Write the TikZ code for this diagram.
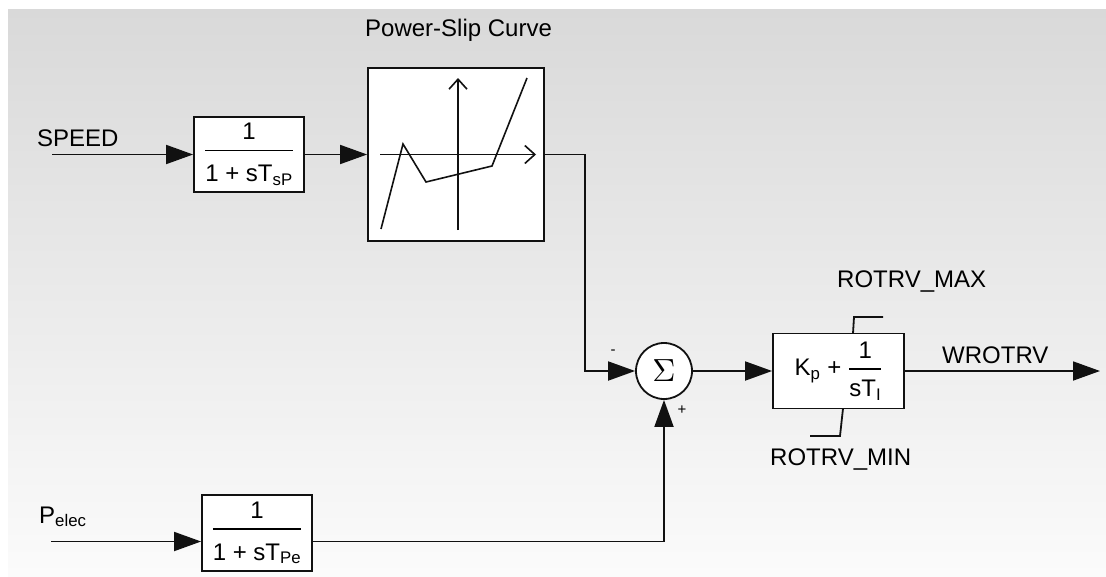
\documentclass[tikz,border=0pt]{standalone}
\usepackage{amsmath}
\usepackage{graphicx}
\usepackage{fontspec}
\setmainfont{Liberation Sans}
\usepackage{tikz}
\usetikzlibrary{arrows.meta,positioning}
\definecolor{ink}{HTML}{111111}
\definecolor{bgtop}{HTML}{D9D9D9}
\definecolor{bgbot}{HTML}{FBFBFB}

\begin{document}
\begin{tikzpicture}[
  x=1pt,y=-1pt,
  font=\fontsize{24}{28}\selectfont,
  blk/.style={draw=ink,fill=white,line width=1.8pt,inner sep=0pt,minimum width=110pt,minimum height=75pt},
  sumnode/.style={draw=ink,fill=white,circle,line width=1.8pt,inner sep=0pt,minimum size=56pt},
  flow/.style={-{Triangle[length=27pt,width=19pt]},draw=ink,line width=1.8pt},
  wire/.style={draw=ink,line width=1.8pt},
  axis/.style={-{Straight Barb[length=10pt,width=18pt]},draw=ink,line width=1.6pt},
  lbl/.style={anchor=base west,inner sep=0pt},
  sgn/.style={font=\fontsize{15}{16}\selectfont,inner sep=0pt},
]
\useasboundingbox (0,0) rectangle (1106,576);
\shade[top color=bgtop,bottom color=bgbot] (8,9) rectangle (1106,576);

\node[blk] (tsp) at (249,154.5)
  {$\genfrac{}{}{1.5pt}{0}{\text{1}}{\rule{0pt}{26pt}\text{1 + sT}_{\text{sP}}}$};
\node[blk,minimum width=176pt,minimum height=173pt] (pslip) at (456,154.5) {};
\node[sumnode] (sum) at (664,371) {\fontsize{10}{12}\selectfont\scalebox{3.2}{$\Sigma$}};
\node[blk,minimum width=131pt] (pi) at (838.5,371)
  {$\text{K}_{\text{p}}\;\text{+}\;\genfrac{}{}{1.5pt}{0}{\text{1}}{\rule{0pt}{22pt}\text{sT}_{\text{I}}}$};
\node[blk,minimum height=76pt] (tpe) at (257,533)
  {$\genfrac{}{}{1.5pt}{0}{\text{1}}{\rule{0pt}{26pt}\text{1 + sT}_{\text{Pe}}}$};

\node[lbl] (speed) at (37,146) {SPEED};
\node[lbl] (pslab) at (365,36) {Power-Slip Curve};
\node[lbl] (pelec) at (39,523) {P\textsubscript{elec}};
\node[lbl] (rmax) at (837,287) {ROTRV\_MAX};
\node[lbl] (rmin) at (770,465) {ROTRV\_MIN};
\node[lbl] (wrot) at (942,363) {WROTRV};
\node[sgn] (minus) at (613,352) {-};
\node[sgn] (plus) at (682,410) {+};

% power-slip characteristic
\draw[axis] (380,154.5) -- (536,154.5);
\draw[axis] (458,230) -- (458,78);
\draw[wire,line width=1.6pt] (381,229) -- (403,144) -- (426,182) -- (492,166) -- (527,78);

% limiter marks
\draw[wire] (853,333.5) -- (854,317) -- (883,317);
\draw[wire] (843,408.5) -- (840,436) -- (810,436);

\coordinate (speedin) at (52,154.5);
\coordinate (bend) at (585,154.5);
\coordinate (pin) at (51,541.5);
\coordinate (out) at (1100,371);

\draw[flow] (speedin) -- (tsp);
\draw[flow] (tsp) -- (pslip);
\draw[flow] (pslip.east) -- (bend) |- (sum.west);
\draw[flow] (sum) -- (pi);
\draw[flow] (pi) -- (out);
\draw[flow] (pin) -- (pin -| tpe.west);
\draw[flow] (pin -| tpe.east) -| (sum.south);
\end{tikzpicture}
\end{document}
